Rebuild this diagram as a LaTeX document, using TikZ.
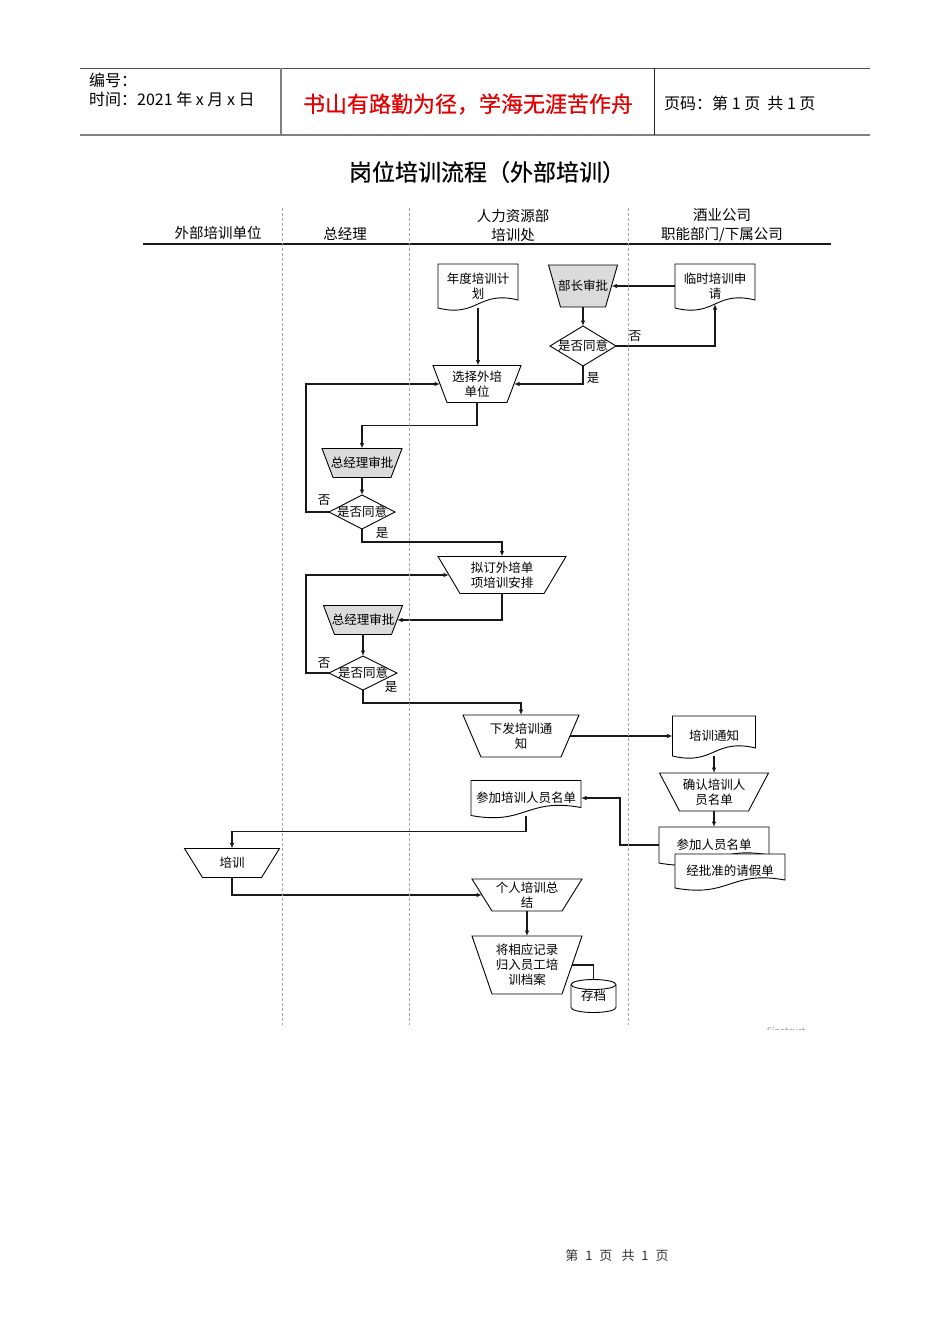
\documentclass[tikz,border=0pt]{standalone}
\usepackage{fontspec}
\setmainfont{Noto Sans CJK SC}
\newfontfamily\heavyfont[FakeBold=0.6]{Noto Sans CJK SC}
\usetikzlibrary{calc,arrows.meta}
\definecolor{slogred}{RGB}{228,0,0}
\pgfdeclarelayer{bglayer}
\pgfdeclarelayer{connlayer}
\pgfdeclarelayer{shplayer}
\pgfsetlayers{bglayer,connlayer,shplayer,main}
\tikzset{
  txt/.style={inner sep=0pt, outer sep=0pt, align=center, font=\fontsize{12.5}{15}\selectfont},
  sz/.style 2 args={minimum width=#1pt, minimum height=#2pt},
  shp/.style={draw=black, line width=0.9pt, fill=white},
  gshp/.style={shp, fill=black!14},
  arrowline/.style={draw=black!90, line width=1.1pt, -{Latex[length=5.5pt,width=4.5pt]}},
  laneline/.style={draw=black!35, line width=0.8pt, dash pattern=on 3pt off 2pt},
  hdr/.style={inner sep=0pt, anchor=west, font=\fontsize{16}{19}\selectfont},
}
\newcommand\trapshape[3]{\begin{pgfonlayer}{shplayer}\path[#3] (#1.north west) -- (#1.north east) -- ($(#1.south east)+(-#2,0)$) -- ($(#1.south west)+(#2,0)$) -- cycle;\end{pgfonlayer}}
\newcommand\docshape[1]{\begin{pgfonlayer}{shplayer}\path[shp] (#1.south west) -- (#1.north west) -- (#1.north east) -- ($(#1.south east)+(0,-8)$) .. controls ($(#1.south)+(0,-18)$) and ($(#1.south)+(0,10)$) .. (#1.south west) -- cycle;\end{pgfonlayer}}
\newcommand\diamshape[1]{\begin{pgfonlayer}{shplayer}\path[shp] (#1.north) -- (#1.east) -- (#1.south) -- (#1.west) -- cycle;\end{pgfonlayer}}
\begin{document}
\begin{tikzpicture}[x=1pt,y=-1pt]
\useasboundingbox (0,0) rectangle (950,1344);
\begin{pgfonlayer}{bglayer}
\fill[white] (0,0) rectangle (950,1344);
\end{pgfonlayer}

% header
\draw[black!70, line width=1pt] (80,68) -- (870,68);
\draw[black!50, line width=2pt] (80,135) -- (870,135);
\draw[black!50, line width=2pt] (281,68) -- (281,135);
\draw[black!85, line width=1pt] (654,68) -- (654,135);
\node[hdr] (hno) at (89,80) {编号：};
\node[hdr] (htime) at (89,99) {时间：2021 年 x 月 x 日};
\node[inner sep=0pt, text=slogred, font=\fontsize{22}{25}\heavyfont] (hslogan) at (468,104) {书山有路勤为径，学海无涯苦作舟};
\node[hdr] (hpage) at (664,103) {页码：第 1 页\ \ 共 1 页};

% title
\node[inner sep=0pt, font=\fontsize{23}{27}\heavyfont] (title) at (487,172) {岗位培训流程（外部培训）};

% lanes
\node[hdr, anchor=center, font=\fontsize{14.5}{19}\selectfont] (l1) at (218,233) {外部培训单位};
\node[hdr, anchor=center, font=\fontsize{14.5}{19}\selectfont] (l2) at (345,234) {总经理};
\node[hdr, anchor=center, align=center, font=\fontsize{14.5}{19}\selectfont] (l3) at (513,225) {人力资源部\\培训处};
\node[hdr, anchor=center, align=center, font=\fontsize{14.5}{19}\selectfont] (l4) at (722,225) {酒业公司\\职能部门/下属公司};
\draw[black!90, line width=1.2pt] (143,244) -- (831,244);
\draw[laneline] (282,208) -- (282,1025);
\draw[laneline] (409,208) -- (409,1025);
\draw[laneline] (628,208) -- (628,1025);

% nodes
\node[txt, sz={80}{44}] (yearplan) at (478,286) {年度培训计\\划};
\docshape{yearplan}
\node[txt, sz={80}{44}] (apply) at (715,286) {临时培训申\\请};
\docshape{apply}
\node[txt, sz={69}{42}] (mgrok) at (583,286) {部长审批};
\trapshape{mgrok}{12}{gshp}
\node[txt, sz={66}{40}] (dec1) at (583,346) {是否同意};
\diamshape{dec1}
\node[txt, sz={88}{37}] (select) at (477,384) {选择外培\\单位};
\trapshape{select}{14}{shp}
\node[txt, sz={80}{29}] (gm1) at (362,463) {总经理审批};
\trapshape{gm1}{11}{gshp}
\node[txt, sz={66}{34}] (dec2) at (362,512) {是否同意};
\diamshape{dec2}
\node[txt, sz={128}{37}] (plan) at (502,575) {拟订外培单\\项培训安排};
\trapshape{plan}{22}{shp}
\node[txt, sz={79}{29}] (gm2) at (363,620) {总经理审批};
\trapshape{gm2}{11}{gshp}
\node[txt, sz={68}{34}] (dec3) at (363,673) {是否同意};
\diamshape{dec3}
\node[txt, sz={116}{42}] (issue) at (521,736) {下发培训通\\知};
\trapshape{issue}{18}{shp}
\node[txt, sz={83}{40}] (notice) at (714,736) {培训通知};
\docshape{notice}
\node[txt, sz={109}{38}] (confirm) at (714,792) {确认培训人\\员名单};
\trapshape{confirm}{20}{shp}
\node[txt, sz={110}{36}] (attend) at (714,845) {参加人员名单};
\docshape{attend}
\node[txt, sz={110}{34}] (leave) at (730,871) {经批准的请假单};
\docshape{leave}
\node[txt, sz={110}{35}] (list) at (526,798) {参加培训人员名单};
\docshape{list}
\node[txt, sz={95}{29}] (train) at (232,863) {培训};
\trapshape{train}{18}{shp}
\node[txt, sz={110}{32}] (summary) at (527,895) {个人培训总\\结};
\trapshape{summary}{20}{shp}
\node[txt, sz={110}{58}] (archive) at (527,965) {将相应记录\\归入员工培\\训档案};
\trapshape{archive}{20}{shp}
\node[txt, sz={45}{33}] (store) at (593.5,996) {存档};
\begin{pgfonlayer}{shplayer}
\path[shp] ($(store.north west)+(0,5)$) -- ($(store.south west)+(0,-5)$) arc[start angle=180, end angle=360, x radius=22.5pt, y radius=5pt] -- ($(store.north east)+(0,5)$) arc[start angle=0, end angle=180, x radius=22.5pt, y radius=5pt] -- cycle;
\draw[line width=0.9pt] ($(store.north west)+(0,5)$) arc[start angle=180, end angle=360, x radius=22.5pt, y radius=5pt];
\end{pgfonlayer}

% labels
\node[txt] (no1) at (635,336) {否};
\node[txt] (yes1) at (593,378) {是};
\node[txt] (no2) at (324,500) {否};
\node[txt] (yes2) at (382,533) {是};
\node[txt] (no3) at (324,663) {否};
\node[txt] (yes3) at (391,687) {是};

% connectors
\begin{pgfonlayer}{connlayer}
\draw[arrowline] (yearplan.south) -- (yearplan.south |- select.north);
\draw[arrowline] (apply.west) -- ($(mgrok.east)+(-6,0)$);
\draw[arrowline] (mgrok.south) -- (dec1.north);
\draw[arrowline] (dec1.east) -| ($(apply.south)+(0,-4)$);
\draw[arrowline] (dec1.south) |- ($(select.east)+(-7,0)$);
\draw[arrowline] (select.south) -- ($(select.south)+(0,23)$) -| (gm1.north);
\draw[arrowline] (gm1.south) -- (dec2.north);
\draw[arrowline] (dec2.west) -- ($(dec2.west)+(-23,0)$) |- ($(select.west)+(7,0)$);
\draw[arrowline] (dec2.south) -- ($(dec2.south)+(0,13)$) -| (plan.north);
\draw[arrowline] (plan.south) |- ($(gm2.east)+(-5.5,0)$);
\draw[arrowline] (gm2.south) -- (dec3.north);
\draw[arrowline] (dec3.west) -- ($(dec3.west)+(-23,0)$) |- ($(plan.west)+(11,0)$);
\draw[arrowline] (dec3.south) -- ($(dec3.south)+(0,13)$) -| (issue.north);
\draw[arrowline] ($(issue.east)+(-9,0)$) -- (notice.west);
\draw[arrowline] (notice.south) -- (confirm.north);
\draw[arrowline] (confirm.south) -- (attend.north);
\draw[arrowline] (attend.west) -- ($(attend.west)+(-39,0)$) |- (list.east);
\draw[arrowline] (list.south) -- ($(list.south)+(0,16)$) -| (train.north);
\draw[arrowline] (train.south) |- ($(summary.west)+(10,0)$);
\draw[arrowline] (summary.south) -- (archive.north);
\draw[arrowline] ($(archive.east)+(-10,0)$) -| ($(store.north)+(0,9)$);
\end{pgfonlayer}

% faint watermark
\begin{scope}
\clip (740,1015) rectangle (840,1029);
\node[inner sep=0pt, text=black!45, font=\fontsize{9}{10}\selectfont] (wm) at (786,1031) {Sinotrust};
\end{scope}

% footer
\node[inner sep=0pt, text=black!80, font=\fontsize{13}{15}\selectfont] (footer) at (617,1256) {第\hspace{7pt}1\hspace{7pt}页\hspace{9pt}共\hspace{7pt}1\hspace{7pt}页};
\end{tikzpicture}
\end{document}
